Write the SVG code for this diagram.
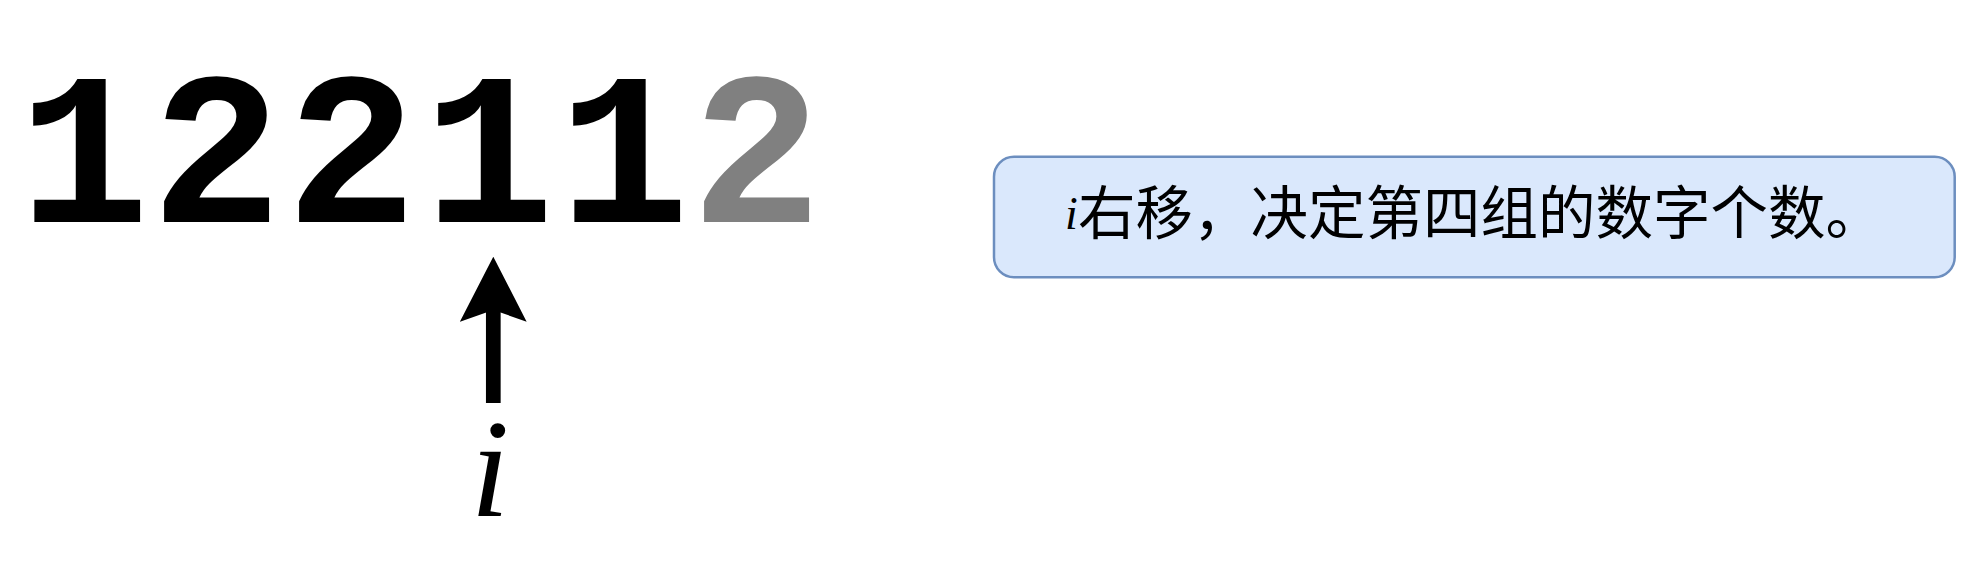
<svg xmlns="http://www.w3.org/2000/svg" width="1968" height="582" viewBox="0 0 1968 582">
<style>
.digits{font-family:"Liberation Mono","Courier New",monospace;font-weight:bold;font-size:218px;text-anchor:middle;fill:#000}
.gray{fill:#808080}
.mi{font-family:"Liberation Serif","Times New Roman",serif;font-style:italic;fill:#000}
.cjk{font-family:"Noto Sans CJK SC","Liberation Sans",sans-serif;font-size:57.5px;fill:#000}
.box{fill:#dae8fc;stroke:#6c8ebf;stroke-width:2.5}
.conn{stroke:#000;stroke-width:14.7;fill:none}
</style>
<defs>
<marker id="head" markerUnits="userSpaceOnUse" viewBox="0 0 65 66.7" markerWidth="65" markerHeight="66.7" refX="16.7" refY="33.35" orient="auto">
<path d="M65,33.35 L0,0 L11.7,33.35 L0,66.7 Z" fill="#000"/>
</marker>
</defs>
<rect width="1968" height="582" fill="#fff"/>
<g id="sequence">
<text class="digits" y="222"><tspan x="84 216.5 351.5 489 624">12211</tspan><tspan class="gray" x="756.5">2</tspan></text>
</g>
<g id="connectors">
<line class="conn" x1="493.3" y1="403" x2="493.3" y2="305" marker-end="url(#head)"/>
</g>
<g id="pointer-label">
<text class="mi" x="490" y="516" font-size="140" text-anchor="middle">i</text>
</g>
<g id="note">
<rect class="box" x="994" y="156.7" width="960.7" height="120.6" rx="20" ry="20"/>
<text class="mi" x="1065" y="229" font-size="46">i</text>
<text class="cjk" x="1078" y="234">右移，决定第四组的数字个数。</text>
</g>
</svg>
